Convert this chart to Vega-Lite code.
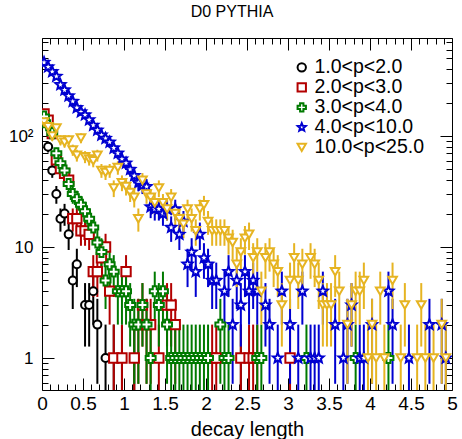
{
"$schema": "https://vega.github.io/schema/vega-lite/v6.json",
"width": 410, "height": 352,
"autosize": {"type": "none"},
"padding": {"left": 42, "top": 38, "right": 10, "bottom": 49},
"background": "white",
"title": {"text": "D0 PYTHIA", "font": "Liberation Sans", "fontSize": 16, "fontWeight": "normal", "color": "black", "anchor": "middle", "dx": -15, "offset": 18, "dy": 18, "baseline": "alphabetic"},
"config": {"view": {"stroke": "black", "strokeWidth": 1}, "font": "Liberation Sans"},
"data": {"values": [
{"s":"1.0<p<2.0","x":0.025,"n":150},{"s":"1.0<p<2.0","x":0.075,"n":80},{"s":"1.0<p<2.0","x":0.125,"n":49},{"s":"1.0<p<2.0","x":0.175,"n":30},{"s":"1.0<p<2.0","x":0.225,"n":18},{"s":"1.0<p<2.0","x":0.275,"n":20},{"s":"1.0<p<2.0","x":0.325,"n":13},{"s":"1.0<p<2.0","x":0.375,"n":5},{"s":"1.0<p<2.0","x":0.425,"n":7},{"s":"1.0<p<2.0","x":0.525,"n":3},{"s":"1.0<p<2.0","x":0.575,"n":3},{"s":"1.0<p<2.0","x":0.625,"n":4},{"s":"1.0<p<2.0","x":0.675,"n":2},{"s":"1.0<p<2.0","x":0.775,"n":1},{"s":"1.0<p<2.0","x":0.875,"n":1},{"s":"1.0<p<2.0","x":0.975,"n":1},{"s":"1.0<p<2.0","x":1.125,"n":1},{"s":"1.0<p<2.0","x":2.425,"n":1},
{"s":"2.0<p<3.0","x":0.025,"n":158},{"s":"2.0<p<3.0","x":0.075,"n":139},{"s":"2.0<p<3.0","x":0.125,"n":105},{"s":"2.0<p<3.0","x":0.175,"n":61},{"s":"2.0<p<3.0","x":0.225,"n":51},{"s":"2.0<p<3.0","x":0.275,"n":46},{"s":"2.0<p<3.0","x":0.325,"n":40},{"s":"2.0<p<3.0","x":0.375,"n":18},{"s":"2.0<p<3.0","x":0.425,"n":18},{"s":"2.0<p<3.0","x":0.475,"n":14},{"s":"2.0<p<3.0","x":0.525,"n":14},{"s":"2.0<p<3.0","x":0.575,"n":13},{"s":"2.0<p<3.0","x":0.625,"n":6},{"s":"2.0<p<3.0","x":0.675,"n":6},{"s":"2.0<p<3.0","x":0.725,"n":8},{"s":"2.0<p<3.0","x":0.775,"n":10},{"s":"2.0<p<3.0","x":0.825,"n":4},{"s":"2.0<p<3.0","x":0.875,"n":1},{"s":"2.0<p<3.0","x":0.975,"n":1},{"s":"2.0<p<3.0","x":1.025,"n":6},{"s":"2.0<p<3.0","x":1.125,"n":1},{"s":"2.0<p<3.0","x":1.175,"n":2},{"s":"2.0<p<3.0","x":1.225,"n":3},{"s":"2.0<p<3.0","x":1.275,"n":2},{"s":"2.0<p<3.0","x":1.325,"n":2},{"s":"2.0<p<3.0","x":1.425,"n":1},{"s":"2.0<p<3.0","x":1.525,"n":3},{"s":"2.0<p<3.0","x":1.575,"n":3},{"s":"2.0<p<3.0","x":1.625,"n":2},{"s":"2.0<p<3.0","x":2.075,"n":1},{"s":"2.0<p<3.0","x":2.125,"n":1},{"s":"2.0<p<3.0","x":2.425,"n":1},{"s":"2.0<p<3.0","x":2.525,"n":1},{"s":"2.0<p<3.0","x":2.575,"n":1},{"s":"2.0<p<3.0","x":2.625,"n":1},{"s":"2.0<p<3.0","x":3.025,"n":1},
{"s":"3.0<p<4.0","x":0.025,"n":150},{"s":"3.0<p<4.0","x":0.075,"n":125},{"s":"3.0<p<4.0","x":0.125,"n":106},{"s":"3.0<p<4.0","x":0.175,"n":70},{"s":"3.0<p<4.0","x":0.225,"n":57},{"s":"3.0<p<4.0","x":0.275,"n":49},{"s":"3.0<p<4.0","x":0.325,"n":37},{"s":"3.0<p<4.0","x":0.375,"n":30},{"s":"3.0<p<4.0","x":0.425,"n":27},{"s":"3.0<p<4.0","x":0.475,"n":24},{"s":"3.0<p<4.0","x":0.525,"n":21},{"s":"3.0<p<4.0","x":0.575,"n":18},{"s":"3.0<p<4.0","x":0.625,"n":15},{"s":"3.0<p<4.0","x":0.675,"n":11},{"s":"3.0<p<4.0","x":0.725,"n":9},{"s":"3.0<p<4.0","x":0.775,"n":5},{"s":"3.0<p<4.0","x":0.825,"n":7},{"s":"3.0<p<4.0","x":0.875,"n":6},{"s":"3.0<p<4.0","x":0.925,"n":4},{"s":"3.0<p<4.0","x":0.975,"n":4},{"s":"3.0<p<4.0","x":1.025,"n":4},{"s":"3.0<p<4.0","x":1.075,"n":3},{"s":"3.0<p<4.0","x":1.125,"n":2},{"s":"3.0<p<4.0","x":1.175,"n":2},{"s":"3.0<p<4.0","x":1.225,"n":3},{"s":"3.0<p<4.0","x":1.275,"n":2},{"s":"3.0<p<4.0","x":1.325,"n":1},{"s":"3.0<p<4.0","x":1.375,"n":4},{"s":"3.0<p<4.0","x":1.425,"n":3},{"s":"3.0<p<4.0","x":1.475,"n":4},{"s":"3.0<p<4.0","x":1.525,"n":2},{"s":"3.0<p<4.0","x":1.575,"n":1},{"s":"3.0<p<4.0","x":1.625,"n":1},{"s":"3.0<p<4.0","x":1.675,"n":1},{"s":"3.0<p<4.0","x":1.725,"n":1},{"s":"3.0<p<4.0","x":1.775,"n":1},{"s":"3.0<p<4.0","x":1.825,"n":1},{"s":"3.0<p<4.0","x":1.875,"n":1},{"s":"3.0<p<4.0","x":1.925,"n":1},{"s":"3.0<p<4.0","x":1.975,"n":1},{"s":"3.0<p<4.0","x":2.025,"n":1},{"s":"3.0<p<4.0","x":2.175,"n":2},{"s":"3.0<p<4.0","x":2.225,"n":1},{"s":"3.0<p<4.0","x":2.275,"n":1},{"s":"3.0<p<4.0","x":2.625,"n":1},{"s":"3.0<p<4.0","x":2.675,"n":1},{"s":"3.0<p<4.0","x":3.225,"n":1},{"s":"3.0<p<4.0","x":3.825,"n":1},{"s":"3.0<p<4.0","x":4.225,"n":1},
{"s":"4.0<p<10.0","x":0.025,"n":460},{"s":"4.0<p<10.0","x":0.075,"n":420},{"s":"4.0<p<10.0","x":0.125,"n":380},{"s":"4.0<p<10.0","x":0.175,"n":345},{"s":"4.0<p<10.0","x":0.225,"n":290},{"s":"4.0<p<10.0","x":0.275,"n":260},{"s":"4.0<p<10.0","x":0.325,"n":230},{"s":"4.0<p<10.0","x":0.375,"n":205},{"s":"4.0<p<10.0","x":0.425,"n":180},{"s":"4.0<p<10.0","x":0.475,"n":165},{"s":"4.0<p<10.0","x":0.525,"n":155},{"s":"4.0<p<10.0","x":0.575,"n":140},{"s":"4.0<p<10.0","x":0.625,"n":125},{"s":"4.0<p<10.0","x":0.675,"n":113},{"s":"4.0<p<10.0","x":0.725,"n":102},{"s":"4.0<p<10.0","x":0.775,"n":95},{"s":"4.0<p<10.0","x":0.825,"n":88},{"s":"4.0<p<10.0","x":0.875,"n":78},{"s":"4.0<p<10.0","x":0.925,"n":70},{"s":"4.0<p<10.0","x":0.975,"n":62},{"s":"4.0<p<10.0","x":1.025,"n":57},{"s":"4.0<p<10.0","x":1.075,"n":50},{"s":"4.0<p<10.0","x":1.125,"n":44},{"s":"4.0<p<10.0","x":1.175,"n":38},{"s":"4.0<p<10.0","x":1.225,"n":36},{"s":"4.0<p<10.0","x":1.275,"n":35},{"s":"4.0<p<10.0","x":1.325,"n":23},{"s":"4.0<p<10.0","x":1.375,"n":22},{"s":"4.0<p<10.0","x":1.425,"n":22},{"s":"4.0<p<10.0","x":1.475,"n":20},{"s":"4.0<p<10.0","x":1.525,"n":22},{"s":"4.0<p<10.0","x":1.575,"n":15},{"s":"4.0<p<10.0","x":1.625,"n":22},{"s":"4.0<p<10.0","x":1.675,"n":13},{"s":"4.0<p<10.0","x":1.725,"n":17},{"s":"4.0<p<10.0","x":1.775,"n":7},{"s":"4.0<p<10.0","x":1.825,"n":9},{"s":"4.0<p<10.0","x":1.875,"n":6},{"s":"4.0<p<10.0","x":1.925,"n":13},{"s":"4.0<p<10.0","x":1.975,"n":8},{"s":"4.0<p<10.0","x":2.025,"n":7},{"s":"4.0<p<10.0","x":2.075,"n":5},{"s":"4.0<p<10.0","x":2.125,"n":5},{"s":"4.0<p<10.0","x":2.225,"n":4},{"s":"4.0<p<10.0","x":2.275,"n":6},{"s":"4.0<p<10.0","x":2.325,"n":2},{"s":"4.0<p<10.0","x":2.375,"n":5},{"s":"4.0<p<10.0","x":2.425,"n":3},{"s":"4.0<p<10.0","x":2.475,"n":6},{"s":"4.0<p<10.0","x":2.525,"n":4},{"s":"4.0<p<10.0","x":2.575,"n":5},{"s":"4.0<p<10.0","x":2.625,"n":4},{"s":"4.0<p<10.0","x":2.725,"n":3},{"s":"4.0<p<10.0","x":2.775,"n":2},{"s":"4.0<p<10.0","x":2.875,"n":1},{"s":"4.0<p<10.0","x":2.925,"n":4},{"s":"4.0<p<10.0","x":3.025,"n":2},{"s":"4.0<p<10.0","x":3.125,"n":1},{"s":"4.0<p<10.0","x":3.175,"n":4},{"s":"4.0<p<10.0","x":3.275,"n":1},{"s":"4.0<p<10.0","x":3.325,"n":1},{"s":"4.0<p<10.0","x":3.375,"n":1},{"s":"4.0<p<10.0","x":3.425,"n":4},{"s":"4.0<p<10.0","x":3.575,"n":2},{"s":"4.0<p<10.0","x":3.675,"n":1},{"s":"4.0<p<10.0","x":3.725,"n":2},{"s":"4.0<p<10.0","x":3.775,"n":3},{"s":"4.0<p<10.0","x":3.875,"n":1},{"s":"4.0<p<10.0","x":3.925,"n":1},{"s":"4.0<p<10.0","x":4.025,"n":2},{"s":"4.0<p<10.0","x":4.225,"n":4},{"s":"4.0<p<10.0","x":4.275,"n":2},{"s":"4.0<p<10.0","x":4.475,"n":1},{"s":"4.0<p<10.0","x":4.725,"n":2},{"s":"4.0<p<10.0","x":4.875,"n":2},{"s":"4.0<p<10.0","x":4.925,"n":1},
{"s":"10.0<p<25.0","x":0.025,"n":134},{"s":"10.0<p<25.0","x":0.075,"n":121},{"s":"10.0<p<25.0","x":0.125,"n":100},{"s":"10.0<p<25.0","x":0.175,"n":118},{"s":"10.0<p<25.0","x":0.225,"n":92},{"s":"10.0<p<25.0","x":0.275,"n":88},{"s":"10.0<p<25.0","x":0.325,"n":92},{"s":"10.0<p<25.0","x":0.375,"n":75},{"s":"10.0<p<25.0","x":0.425,"n":67},{"s":"10.0<p<25.0","x":0.475,"n":96},{"s":"10.0<p<25.0","x":0.525,"n":65},{"s":"10.0<p<25.0","x":0.575,"n":62},{"s":"10.0<p<25.0","x":0.625,"n":60},{"s":"10.0<p<25.0","x":0.675,"n":67},{"s":"10.0<p<25.0","x":0.725,"n":49},{"s":"10.0<p<25.0","x":0.775,"n":47},{"s":"10.0<p<25.0","x":0.825,"n":49},{"s":"10.0<p<25.0","x":0.875,"n":34},{"s":"10.0<p<25.0","x":0.925,"n":52},{"s":"10.0<p<25.0","x":0.975,"n":38},{"s":"10.0<p<25.0","x":1.025,"n":35},{"s":"10.0<p<25.0","x":1.075,"n":31},{"s":"10.0<p<25.0","x":1.125,"n":28},{"s":"10.0<p<25.0","x":1.175,"n":18},{"s":"10.0<p<25.0","x":1.225,"n":40},{"s":"10.0<p<25.0","x":1.275,"n":30},{"s":"10.0<p<25.0","x":1.325,"n":28},{"s":"10.0<p<25.0","x":1.375,"n":25},{"s":"10.0<p<25.0","x":1.425,"n":34},{"s":"10.0<p<25.0","x":1.475,"n":25},{"s":"10.0<p<25.0","x":1.525,"n":22},{"s":"10.0<p<25.0","x":1.575,"n":28},{"s":"10.0<p<25.0","x":1.625,"n":20},{"s":"10.0<p<25.0","x":1.675,"n":18},{"s":"10.0<p<25.0","x":1.725,"n":16},{"s":"10.0<p<25.0","x":1.775,"n":22},{"s":"10.0<p<25.0","x":1.825,"n":18},{"s":"10.0<p<25.0","x":1.875,"n":14},{"s":"10.0<p<25.0","x":1.925,"n":22},{"s":"10.0<p<25.0","x":1.975,"n":24},{"s":"10.0<p<25.0","x":2.025,"n":17},{"s":"10.0<p<25.0","x":2.075,"n":14},{"s":"10.0<p<25.0","x":2.125,"n":14},{"s":"10.0<p<25.0","x":2.175,"n":14},{"s":"10.0<p<25.0","x":2.225,"n":14},{"s":"10.0<p<25.0","x":2.275,"n":12},{"s":"10.0<p<25.0","x":2.325,"n":11},{"s":"10.0<p<25.0","x":2.375,"n":7},{"s":"10.0<p<25.0","x":2.425,"n":9},{"s":"10.0<p<25.0","x":2.475,"n":12},{"s":"10.0<p<25.0","x":2.525,"n":13},{"s":"10.0<p<25.0","x":2.575,"n":8},{"s":"10.0<p<25.0","x":2.625,"n":9},{"s":"10.0<p<25.0","x":2.675,"n":4},{"s":"10.0<p<25.0","x":2.725,"n":8},{"s":"10.0<p<25.0","x":2.775,"n":9},{"s":"10.0<p<25.0","x":2.825,"n":7},{"s":"10.0<p<25.0","x":2.875,"n":6},{"s":"10.0<p<25.0","x":2.925,"n":3},{"s":"10.0<p<25.0","x":3.025,"n":5},{"s":"10.0<p<25.0","x":3.075,"n":8},{"s":"10.0<p<25.0","x":3.125,"n":5},{"s":"10.0<p<25.0","x":3.175,"n":7},{"s":"10.0<p<25.0","x":3.275,"n":8},{"s":"10.0<p<25.0","x":3.325,"n":7},{"s":"10.0<p<25.0","x":3.375,"n":5},{"s":"10.0<p<25.0","x":3.425,"n":3},{"s":"10.0<p<25.0","x":3.475,"n":3},{"s":"10.0<p<25.0","x":3.525,"n":3},{"s":"10.0<p<25.0","x":3.575,"n":6},{"s":"10.0<p<25.0","x":3.625,"n":4},{"s":"10.0<p<25.0","x":3.725,"n":2},{"s":"10.0<p<25.0","x":3.775,"n":3},{"s":"10.0<p<25.0","x":3.825,"n":4},{"s":"10.0<p<25.0","x":3.875,"n":4},{"s":"10.0<p<25.0","x":3.925,"n":5},{"s":"10.0<p<25.0","x":3.975,"n":1},{"s":"10.0<p<25.0","x":4.025,"n":2},{"s":"10.0<p<25.0","x":4.075,"n":1},{"s":"10.0<p<25.0","x":4.125,"n":4},{"s":"10.0<p<25.0","x":4.175,"n":1},{"s":"10.0<p<25.0","x":4.275,"n":5},{"s":"10.0<p<25.0","x":4.375,"n":1},{"s":"10.0<p<25.0","x":4.425,"n":3},{"s":"10.0<p<25.0","x":4.575,"n":1},{"s":"10.0<p<25.0","x":4.625,"n":3},{"s":"10.0<p<25.0","x":4.675,"n":1},{"s":"10.0<p<25.0","x":4.775,"n":1},{"s":"10.0<p<25.0","x":4.875,"n":2},{"s":"10.0<p<25.0","x":4.925,"n":1}
]},
"transform": [
  {"calculate": "datum.n + sqrt(datum.n)", "as": "hi"},
  {"calculate": "max(datum.n - sqrt(datum.n), 0.3)", "as": "lo"}
],
"layer": [
  {
    "mark": {"type": "rule", "strokeWidth": 2, "clip": true},
    "encoding": {
      "x": {"field": "x", "type": "quantitative", "scale": {"domain": [0, 5], "nice": false, "zero": false},
        "axis": {"orient": "bottom", "values": [0,0.1,0.2,0.3,0.4,0.5,0.6,0.7,0.8,0.9,1,1.1,1.2,1.3,1.4,1.5,1.6,1.7,1.8,1.9,2,2.1,2.2,2.3,2.4,2.5,2.6,2.7,2.8,2.9,3,3.1,3.2,3.3,3.4,3.5,3.6,3.7,3.8,3.9,4,4.1,4.2,4.3,4.4,4.5,4.6,4.7,4.8,4.9,5],
          "labelExpr": "abs(datum.value*2-round(datum.value*2))<0.001 ? format(datum.value,'~g') : ''",
          "tickSize": {"condition": {"test": "abs(datum.value*2-round(datum.value*2))<0.001", "value": -12}, "value": -6},
          "tickColor": "black", "tickWidth": 1, "domain": false, "grid": false,
          "labelFont": "Liberation Sans", "labelFontSize": 19, "labelColor": "black", "labelPadding": 16, "labelFlush": false, "labelOverlap": false,
          "title": "decay length", "titleFont": "Liberation Sans", "titleFontSize": 20, "titleFontWeight": "normal", "titleColor": "black", "titlePadding": 0}},
      "y": {"field": "lo", "type": "quantitative", "scale": {"type": "log", "domain": [0.515, 764], "nice": false},
        "axis": {"orient": "left", "values": [0.6,0.7,0.8,0.9,1,2,3,4,5,6,7,8,9,10,20,30,40,50,60,70,80,90,100,200,300,400,500,600,700],
          "labelExpr": "datum.value==1 ? '1' : datum.value==10 ? '10' : datum.value==100 ? '10²' : ''",
          "tickSize": {"condition": {"test": "datum.value==1 || datum.value==10 || datum.value==100", "value": -12}, "value": -6},
          "tickColor": "black", "tickWidth": 1, "domain": false, "grid": false,
          "labelFont": "Liberation Sans", "labelFontSize": 17, "labelColor": "black", "labelPadding": 21, "labelFlush": false, "labelOverlap": false,
          "title": null}},
      "y2": {"field": "hi"},
      "stroke": {"field": "s", "type": "nominal", "scale": {"range": ["#000000","#e6b422","#b30000","#007a00","#0000d0"]}, "legend": null}
    }
  },
  {
    "mark": {"type": "point", "filled": false, "fill": "white", "strokeWidth": 2, "opacity": 1, "clip": true},
    "encoding": {
      "x": {"field": "x", "type": "quantitative", "axis": null},
      "y": {"field": "n", "type": "quantitative", "axis": null},
      "color": {"field": "s", "type": "nominal", "scale": {"domain": ["1.0<p<2.0","2.0<p<3.0","3.0<p<4.0","4.0<p<10.0","10.0<p<25.0"], "range": ["#000000","#b30000","#007a00","#0000d0","#e6b422"]},
        "legend": {"orient": "none", "legendX": 250, "legendY": 21, "title": null, "labelFont": "Liberation Sans", "labelFontSize": 19.5, "labelColor": "black", "symbolSize": 70, "symbolStrokeWidth": 2, "symbolFillColor": "white", "labelOffset": 3, "rowPadding": 0, "clipHeight": 16.7, "labelLimit": 300}},
      "shape": {"field": "s", "type": "nominal", "scale": {"domain": ["1.0<p<2.0","2.0<p<3.0","3.0<p<4.0","4.0<p<10.0","10.0<p<25.0"], "range": ["circle","square","cross","M0,-1L0.26,-0.36L0.95,-0.31L0.42,0.14L0.59,0.81L0,0.45L-0.59,0.81L-0.42,0.14L-0.95,-0.31L-0.26,-0.36Z","triangle-down"]}},
      "size": {"field": "s", "type": "nominal", "scale": {"range": [64, 110, 90, 100, 110]}, "legend": null}
    }
  },
  {
    "mark": {"type": "point", "opacity": 0},
    "encoding": {
      "x": {"field": "x", "type": "quantitative",
        "axis": {"orient": "top", "values": [0,0.1,0.2,0.3,0.4,0.5,0.6,0.7,0.8,0.9,1,1.1,1.2,1.3,1.4,1.5,1.6,1.7,1.8,1.9,2,2.1,2.2,2.3,2.4,2.5,2.6,2.7,2.8,2.9,3,3.1,3.2,3.3,3.4,3.5,3.6,3.7,3.8,3.9,4,4.1,4.2,4.3,4.4,4.5,4.6,4.7,4.8,4.9,5],
          "labels": false, "domain": false, "grid": false, "title": null, "tickColor": "black", "tickWidth": 1,
          "tickSize": {"condition": {"test": "abs(datum.value*2-round(datum.value*2))<0.001", "value": -12}, "value": -6}}},
      "y": {"field": "n", "type": "quantitative",
        "axis": {"orient": "right", "values": [0.6,0.7,0.8,0.9,1,2,3,4,5,6,7,8,9,10,20,30,40,50,60,70,80,90,100,200,300,400,500,600,700],
          "labels": false, "domain": false, "grid": false, "title": null, "tickColor": "black", "tickWidth": 1,
          "tickSize": {"condition": {"test": "datum.value==1 || datum.value==10 || datum.value==100", "value": -12}, "value": -6}}}
    }
  }
],
"resolve": {"axis": {"x": "independent", "y": "independent"}}
}
